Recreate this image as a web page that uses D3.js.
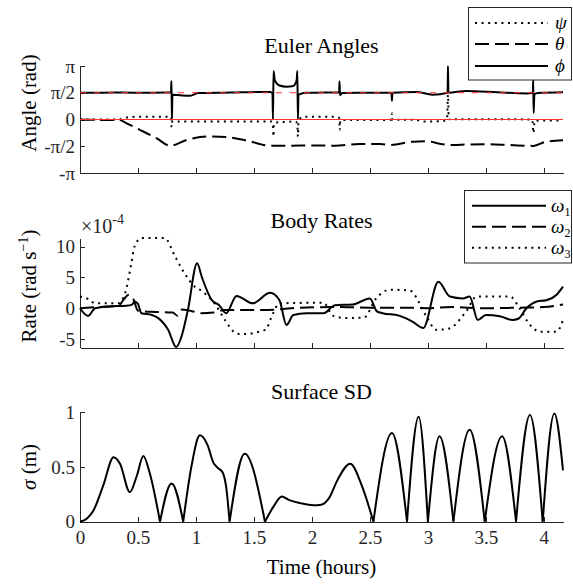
<!DOCTYPE html>
<html><head><meta charset="utf-8">
<script src="https://cdn.jsdelivr.net/npm/d3@7"></script>
<style>
body{margin:0;background:#fff}
svg{display:block}
.axis path,.axis line{stroke:#262626;stroke-width:1;shape-rendering:crispEdges}
</style>
</head><body>
<svg id="c" width="573" height="585"></svg>
<script>
// ---------- tick definitions ----------
const timeTicks = [0, 0.5, 1, 1.5, 2, 2.5, 3, 3.5, 4];
const timeTickLabels = ["0", "0.5", "1", "1.5", "2", "2.5", "3", "3.5", "4"];
const angleTicks = [-Math.PI, -Math.PI / 2, 0, Math.PI / 2, Math.PI];
const angleTickLabels = ["-π", "-π/2", "0", "π/2", "π"];
const rateTicks = [-5, 0, 5, 10];
const rateTickLabels = ["-5", "0", "5", "10"];
const sigmaTicks = [0, 0.5, 1];
const sigmaTickLabels = ["0", "0.5", "1"];

// ---------- Euler angles (rad) vs time (hours) ----------
const psiT = [0, 0.33, 0.42, 0.5, 0.775, 0.785, 0.79, 0.795, 1.0, 1.3, 1.655, 1.664, 1.668, 1.672, 1.75, 1.86, 1.874, 1.879, 1.884, 1.92, 2.2, 2.235, 2.24, 2.245, 2.5, 2.686, 2.69, 2.694, 2.9, 2.95, 3.12, 3.165, 3.173, 3.18, 3.5, 3.9, 3.91, 3.92, 4.165];
const psiV = [0, 0.0, 0.14, 0.16, 0.16, 0.1, -0.45, -0.12, -0.12, -0.12, -0.12, -0.3, -1.0, -0.2, -0.15, -0.12, -0.3, -1.0, -0.1, 0.16, 0.16, 0.1, -0.62, -0.03, -0.03, -0.02, 0.36, -0.02, -0.02, -0.12, -0.1, -0.02, 1.45, 0.02, 0.02, 0.0, -0.8, -0.07, -0.05];

const thetaT = [0, 0.15, 0.34, 0.4, 0.52, 0.66, 0.776, 0.92, 1.09, 1.26, 1.44, 1.64, 1.81, 2.0, 2.2, 2.41, 2.59, 2.67, 2.87, 2.99, 3.1, 3.22, 3.33, 3.5, 3.7, 3.91, 4.02, 4.165];
const thetaV = [0, -0.02, -0.03, -0.22, -0.62, -1.1, -1.54, -1.2, -1.0, -1.03, -1.24, -1.54, -1.54, -1.52, -1.54, -1.44, -1.44, -1.5, -1.3, -1.27, -1.42, -1.5, -1.47, -1.45, -1.5, -1.55, -1.3, -1.22];

const phiT = [0, 0.3, 0.6, 0.77, 0.785, 0.788, 0.791, 0.793, 0.796, 0.80, 0.87, 0.95, 1.02, 1.3, 1.55, 1.645, 1.66, 1.664, 1.669, 1.68, 1.72, 1.78, 1.84, 1.868, 1.874, 1.879, 1.884, 1.9, 1.95, 2.1, 2.234, 2.238, 2.242, 2.26, 2.4, 2.686, 2.69, 2.694, 2.9, 3.04, 3.17, 3.173, 3.177, 3.33, 3.6, 3.85, 3.905, 3.908, 3.912, 3.918, 3.95, 4.165];
const phiV = [1.57, 1.58, 1.57, 1.58, 1.6, 2.26, 1.0, 0.05, 1.3, 1.45, 1.42, 1.4, 1.55, 1.58, 1.62, 1.62, 1.5, 0.02, 2.85, 2.3, 2.0, 1.93, 1.97, 2.3, 2.85, 0.02, 1.45, 1.5, 1.57, 1.58, 1.6, 2.25, 1.43, 1.55, 1.57, 1.57, 1.1, 1.57, 1.62, 1.46, 1.57, 3.14, 1.57, 1.68, 1.6, 1.53, 1.57, 2.32, 0.38, 1.48, 1.55, 1.6];

// ---------- Body rates (x 1e-4 rad/s) ----------
const w1T = [0, 0.07, 0.13, 0.25, 0.4, 0.45, 0.47, 0.5, 0.53, 0.62, 0.675, 0.76, 0.83, 0.875, 0.93, 1.01, 1.05, 1.135, 1.2, 1.26, 1.35, 1.49, 1.64, 1.72, 1.78, 1.84, 1.95, 2.1, 2.2, 2.35, 2.5, 2.56, 2.61, 2.75, 2.87, 2.96, 3.09, 3.19, 3.3, 3.36, 3.43, 3.5, 3.62, 3.73, 3.78, 3.85, 3.94, 4.02, 4.11, 4.165];
const w1V = [0, -1.25, 0, 0.3, 0.4, 0.6, 1.1, 0.7, -0.8, -1.1, -1.6, -3.5, -6.3, -4.6, -0.3, 7.3, 5.1, 1.35, 0.5, -0.8, 2.0, 0.8, 2.5, 1.3, -2.7, -1.1, -0.8, -0.8, 0.5, 0.6, 1.6, -0.5, -0.8, -1.2, -2.2, -3.2, 4.3, 1.9, 1.6, 1.9, -1.9, -1.1, -1.3, -1.9, -1.7, 0, 1.1, 1.3, 2.2, 3.5];

const w2T = [0, 0.15, 0.33, 0.38, 0.42, 0.46, 0.5, 0.65, 0.8, 0.84, 0.88, 0.95, 1.05, 1.15, 1.25, 1.5, 1.7, 1.9, 2.2, 2.5, 2.8, 3.0, 3.2, 3.5, 3.8, 4.0, 4.165];
const w2V = [0, 0.2, 0.4, 1.5, 2.2, 1.5, -0.4, -0.6, -0.7, -1.2, -0.2, -0.4, -0.8, -0.7, -0.3, -0.3, -0.2, 0.1, 0.2, 0.1, 0.1, 0.0, 0.2, 0.0, 0.1, 0.2, 0.6];

const w3T = [0, 0.07, 0.13, 0.33, 0.39, 0.44, 0.47, 0.53, 0.73, 0.82, 0.9, 0.99, 1.05, 1.16, 1.25, 1.34, 1.39, 1.6, 1.66, 1.72, 2.1, 2.18, 2.3, 2.45, 2.55, 2.67, 2.84, 2.99, 3.07, 3.18, 3.33, 3.42, 3.71, 3.79, 3.88, 3.97, 4.11, 4.165];
const w3V = [1.9, 1.5, 0.8, 0.8, 2.5, 7.0, 10.0, 11.4, 11.4, 8.4, 5.7, 3.5, 2.8, 0.8, -1.9, -4.0, -4.2, -3.5, -1.0, 0.8, 0.9, -1.2, -1.6, -1.5, 1.5, 3.0, 2.9, -1.4, -3.5, -3.3, -0.5, 1.9, 1.9, 0, -2.7, -3.8, -3.8, -1.9];

// ---------- Surface SD (m) ----------
const sigT = [0, 0.06, 0.115, 0.2, 0.29, 0.345, 0.43, 0.49, 0.546, 0.6, 0.69, 0.79, 0.89, 0.96, 1.034, 1.1, 1.15, 1.19, 1.23, 1.26, 1.29, 1.42, 1.595, 1.67, 1.74, 1.8, 1.9, 2.01, 2.08, 2.15, 2.22, 2.33, 2.43, 2.53, 2.69, 2.82, 2.92, 3.0, 3.1, 3.22, 3.36, 3.49, 3.64, 3.76, 3.88, 3.99, 4.09, 4.165];
const sigV = [0, 0.03, 0.1, 0.33, 0.59, 0.53, 0.27, 0.42, 0.6, 0.45, 0, 0.35, 0, 0.5, 0.79, 0.7, 0.54, 0.49, 0.45, 0.32, 0, 0.62, 0, 0.14, 0.23, 0.2, 0.17, 0.15, 0.155, 0.22, 0.38, 0.53, 0.33, 0, 0.81, 0, 0.96, 0, 0.78, 0, 0.84, 0, 0.78, 0, 0.975, 0, 0.99, 0.47];

// ---------- texts ----------
const titles = ["Euler Angles", "Body Rates", "Surface SD"];
const eulerNames = ["ψ", "θ", "ϕ"];
const rateNames = ["ω", "ω", "ω"];
const rateSubs = ["1", "2", "3"];

// ---------- layout ----------
const FONT = "'Liberation Serif', 'DejaVu Serif', serif";
const svg = d3.select("#c");
const x = d3.scaleLinear().domain([0, 4.165]).range([80, 563]);
const yA = d3.scaleLinear().domain([-Math.PI, Math.PI]).range([173, 66]);
const yR = d3.scaleLinear().domain([-6.4, 11.4]).range([347.7, 238]);
const yS = d3.scaleLinear().domain([0, 1]).range([521.7, 412.3]);

const DOT = "2,4.6", DASH = "14,6";
const zip = (t, v) => t.map((d, i) => [d, v[i]]);

function axes(y, ticks, labels, bottomY, showX) {
  const gy = svg.append("g").attr("class", "axis").attr("transform", "translate(80,0)")
    .call(d3.axisLeft(y).tickValues(ticks).tickFormat((d, i) => labels[i])
      .tickSizeInner(-5).tickSizeOuter(0).tickPadding(5));
  gy.selectAll("text").style("font-size", "19px").attr("fill", "#262626");
  const gx = svg.append("g").attr("class", "axis").attr("transform", `translate(0,${bottomY})`)
    .call(d3.axisBottom(x).tickValues(timeTicks).tickFormat((d, i) => showX ? timeTickLabels[i] : "")
      .tickSizeInner(-5).tickSizeOuter(0).tickPadding(9));
  gx.selectAll("text").style("font-size", "19px").attr("fill", "#262626");
}

function drawLine(data, y, dash, curve) {
  svg.append("path").datum(data)
    .attr("fill", "none").attr("stroke", "#000").attr("stroke-width", 2)
    .attr("stroke-dasharray", dash || null)
    .attr("d", d3.line().x(d => x(d[0])).y(d => y(d[1])).curve(curve || d3.curveMonotoneX));
}

// ===== Panel 1: Euler Angles =====
axes(yA, angleTicks, angleTickLabels, 173, false);
drawLine(zip(thetaT, thetaV), yA, DASH);
drawLine(zip(psiT, psiV), yA, DOT);
drawLine(zip(phiT, phiV), yA, null);
svg.append("line").attr("x1", x(0)).attr("x2", x(4.165)).attr("y1", yA(0)).attr("y2", yA(0))
  .attr("stroke", "#ff3030").attr("stroke-width", 1);
svg.append("line").attr("x1", x(0)).attr("x2", x(4.165)).attr("y1", yA(Math.PI / 2)).attr("y2", yA(Math.PI / 2))
  .attr("stroke", "#ff3030").attr("stroke-width", 1.2).attr("stroke-dasharray", "6,8");

// ===== Panel 2: Body Rates =====
axes(yR, rateTicks, rateTickLabels, 347.7, false);
drawLine(zip(w3T, w3V), yR, DOT);
drawLine(zip(w2T, w2V), yR, DASH);
drawLine(zip(w1T, w1V), yR, null);
const mult = svg.append("text").attr("x", 81).attr("y", 233).style("font-size", "20px").attr("fill", "#262626");
mult.append("tspan").text("×10");
mult.append("tspan").attr("dy", -9).style("font-size", "14px").text("-4");

// ===== Panel 3: Surface SD =====
axes(yS, sigmaTicks, sigmaTickLabels, 521.7, true);
(function () {
  const segs = []; let cur = [];
  sigT.forEach((t, i) => {
    cur.push([t, sigV[i]]);
    if (sigV[i] === 0 && i > 0 && i < sigT.length - 1) { segs.push(cur); cur = [[t, sigV[i]]]; }
  });
  if (cur.length > 1) segs.push(cur);
  segs.forEach(s => drawLine(s, yS, null));
})();

// ===== titles & labels =====
[[titles[0], 53], [titles[1], 228], [titles[2], 399]].forEach(([t, yy]) =>
  svg.append("text").attr("x", 321.5).attr("y", yy).attr("text-anchor", "middle").style("font-size", "22px").text(t));
svg.append("text").attr("x", 321.5).attr("y", 574).attr("text-anchor", "middle").style("font-size", "21px").text("Time (hours)");

function ylab(cy, build) {
  const t = svg.append("text").attr("transform", `translate(36,${cy}) rotate(-90)`)
    .attr("text-anchor", "middle").style("font-size", "21px");
  build(t);
}
ylab(103, t => t.text("Angle (rad)"));
ylab(286, t => {
  t.append("tspan").text("Rate (rad s");
  t.append("tspan").attr("dy", -8).style("font-size", "14px").text("−1");
  t.append("tspan").attr("dy", 8).text(")");
});
ylab(467, t => {
  t.append("tspan").style("font-style", "italic").text("σ");
  t.append("tspan").text(" (m)");
});

// ===== legends =====
function legend(x0, y0, w, h, rows) {
  svg.append("rect").attr("x", x0).attr("y", y0).attr("width", w).attr("height", h)
    .attr("fill", "#fff").attr("stroke", "#262626").attr("stroke-width", 1);
  rows.forEach(r => {
    svg.append("line").attr("x1", r.x1).attr("x2", r.x2).attr("y1", r.y).attr("y2", r.y)
      .attr("stroke", "#000").attr("stroke-width", 2).attr("stroke-dasharray", r.dash || null);
    const t = svg.append("text").attr("x", r.tx).attr("y", r.y + 6).style("font-size", "19px").style("font-style", "italic").attr("fill", "#000");
    t.append("tspan").text(r.name);
    if (r.sub) t.append("tspan").attr("dy", 4).style("font-size", "12px").style("font-style", "normal").attr("fill", "#000").text(r.sub);
  });
}
legend(468.5, 7.5, 103, 72.5, [
  {y: 23, x1: 475, x2: 548, tx: 555, dash: DOT, name: eulerNames[0]},
  {y: 44, x1: 475, x2: 548, tx: 555, dash: DASH, name: eulerNames[1]},
  {y: 66, x1: 475, x2: 548, tx: 555, dash: null, name: eulerNames[2]}
]);
legend(464.5, 190.5, 107, 72.5, [
  {y: 205.7, x1: 472, x2: 546, tx: 551, dash: null, name: rateNames[0], sub: rateSubs[0]},
  {y: 226.7, x1: 472, x2: 546, tx: 551, dash: DASH, name: rateNames[1], sub: rateSubs[1]},
  {y: 247.7, x1: 472, x2: 546, tx: 551, dash: DOT, name: rateNames[2], sub: rateSubs[2]}
]);

// apply serif font everywhere
svg.selectAll("text").style("font-family", FONT).attr("font-family", FONT);
svg.selectAll("g.axis").attr("font-family", FONT);
</script>
</body></html>
